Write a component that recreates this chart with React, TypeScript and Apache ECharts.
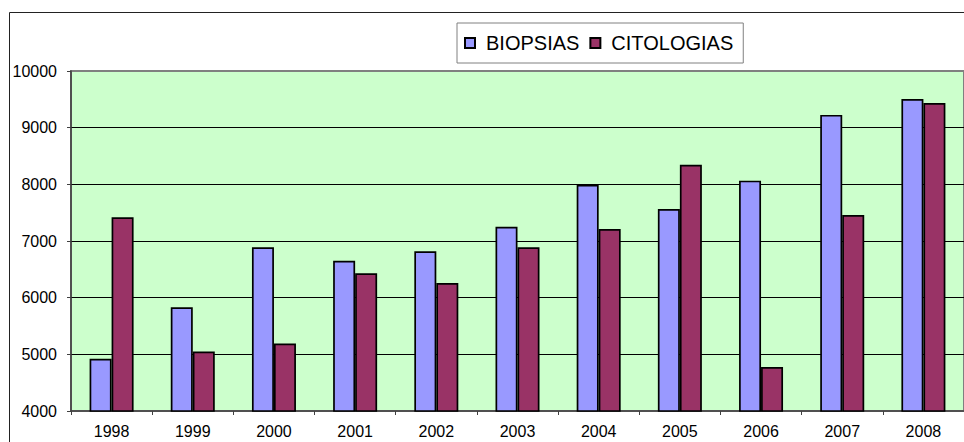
import React, { useEffect, useRef } from "react";
import * as echarts from "echarts";

const years = ["1998", "1999", "2000", "2001", "2002", "2003", "2004", "2005", "2006", "2007", "2008"];
const biopsias = [4920, 5830, 6890, 6650, 6820, 7250, 7990, 7565, 8065, 9225, 9505];
const citologias = [7420, 5050, 5190, 6430, 6260, 6890, 7210, 8345, 4775, 7460, 9435];
const yTicks = { min: 4000, max: 10000, interval: 1000 };

const FONT = "'Liberation Sans', Arial, sans-serif";

export default function App() {
  const ref = useRef<HTMLDivElement>(null);
  useEffect(() => {
    if (!ref.current) return;
    const chart = echarts.init(ref.current, null, { renderer: "svg" });
    chart.setOption({
      animation: false,
      backgroundColor: "#ffffff",
      graphic: [
        {
          type: "rect",
          shape: { x: 9.5, y: 12.5, width: 1000, height: 1000 },
          style: { fill: "none", stroke: "#222", lineWidth: 1 },
          silent: true,
          z: -10,
        },
      ],
      legend: {
        left: 457,
        top: 23,
        padding: [10, 10, 10, 7],
        borderColor: "#808080",
        borderWidth: 1,
        itemWidth: 10,
        itemHeight: 10,
        itemGap: 10,
        icon: "rect",
        textStyle: { fontFamily: FONT, fontSize: 20, color: "#000", padding: [0, 0, 0, 6] },
        data: ["BIOPSIAS", "CITOLOGIAS"],
      },
      grid: {
        left: 71,
        top: 71,
        right: -15,
        bottom: 31,
        show: true,
        backgroundColor: "#CCFFCC",
        borderColor: "#808080",
        borderWidth: 2,
      },
      xAxis: {
        type: "category",
        data: years,
        boundaryGap: true,
        axisLine: { show: true, lineStyle: { color: "#404040", width: 1.5 } },
        axisTick: { show: true, length: 4, interval: 0, lineStyle: { color: "#404040", width: 1 } },
        axisLabel: { fontFamily: FONT, fontSize: 16, color: "#000", margin: 12, interval: 0 },
        splitLine: { show: false },
      },
      yAxis: {
        type: "value",
        min: yTicks.min,
        max: yTicks.max,
        interval: yTicks.interval,
        axisLine: { show: true, lineStyle: { color: "#404040", width: 1.5 } },
        axisTick: { show: true, length: 4, lineStyle: { color: "#404040", width: 1 } },
        axisLabel: {
          fontFamily: FONT,
          fontSize: 16,
          color: "#000",
          margin: 14,
          formatter: (v: number) => String(v),
        },
        splitLine: {
          show: true,
          showMinLine: false,
          showMaxLine: false,
          lineStyle: { color: "#000", width: 1 },
        },
      },
      series: [
        {
          name: "BIOPSIAS",
          type: "bar",
          data: biopsias,
          barWidth: 22,
          barGap: "0%",
          itemStyle: { color: "#9999FF", borderColor: "#000", borderWidth: 1.7 },
        },
        {
          name: "CITOLOGIAS",
          type: "bar",
          data: citologias,
          barWidth: 22,
          barGap: "0%",
          itemStyle: { color: "#993366", borderColor: "#000", borderWidth: 1.7 },
        },
      ],
    });
    return () => chart.dispose();
  }, []);
  return (
    <div
      ref={ref}
      style={{ position: "fixed", left: 0, top: 0, width: 964, height: 442 }}
    />
  );
}
